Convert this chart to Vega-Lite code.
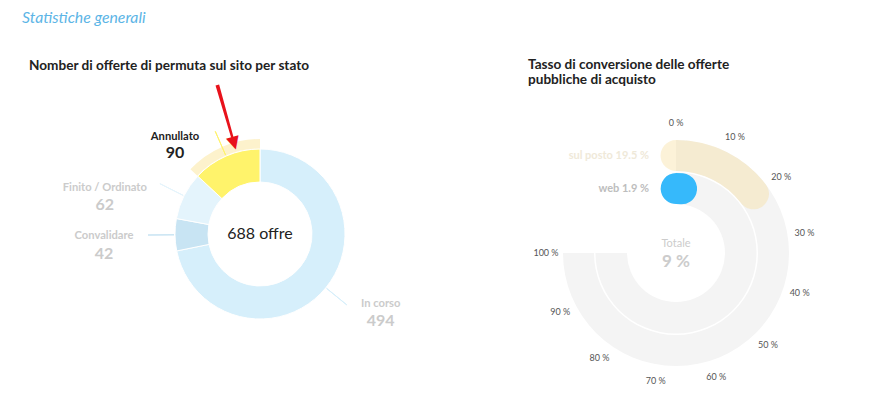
{
  "$schema": "https://vega.github.io/schema/vega-lite/v6.json",
  "background": "white",
  "padding": {"left": 22, "top": 10, "right": 0, "bottom": 0},
  "config": {"view": {"stroke": null}, "font": "Lato"},
  "title": {"text": "Statistiche generali", "anchor": "start", "font": "Lato", "fontSize": 15.8, "fontStyle": "italic", "fontWeight": "normal", "color": "#5cb5e6", "offset": 31},
  "spacing": 30,
  "hconcat": [
    {
      "width": 476,
      "height": 284,
      "title": {"text": "Nomber di offerte di permuta sul sito per stato", "anchor": "start", "dx": 7, "offset": 12, "font": "Lato", "fontSize": 13.6, "fontWeight": "bold", "color": "#222222"},
      "data": {"values": [
        {"stato": "In corso", "valore": 494, "ordine": 1},
        {"stato": "Convalidare", "valore": 42, "ordine": 2},
        {"stato": "Finito / Ordinato", "valore": 62, "ordine": 3},
        {"stato": "Annullato", "valore": 90, "ordine": 4}
      ]},
      "layer": [
        {
          "mark": {"type": "arc", "radius": 85, "radius2": 52, "stroke": "#ffffff", "strokeWidth": 1},
          "encoding": {
            "theta": {"field": "valore", "type": "quantitative", "stack": true, "scale": {"nice": false, "zero": true}},
            "order": {"field": "ordine", "type": "quantitative"},
            "color": {"field": "stato", "type": "nominal", "legend": null,
              "scale": {"domain": ["In corso", "Convalidare", "Finito / Ordinato", "Annullato"], "range": ["#d6effb", "#c8e4f3", "#e4f4fc", "#fff36b"]}}
          }
        },
        {
          "transform": [
            {"stack": "valore", "groupby": [], "sort": [{"field": "ordine", "order": "ascending"}], "as": ["inizio", "fine"]},
            {"filter": "datum.stato === 'Annullato'"}
          ],
          "mark": {"type": "arc", "radius": 95, "radius2": 85.5, "color": "#fdf2cc"},
          "encoding": {
            "theta": {"field": "inizio", "type": "quantitative"},
            "theta2": {"field": "fine"}
          }
        },
        {
          "transform": [
            {"stack": "valore", "groupby": [], "sort": [{"field": "ordine", "order": "ascending"}], "as": ["inizio", "fine"]},
            {"fold": ["inizio", "fine"], "as": ["estremo", "angolo"]},
            {"aggregate": [{"op": "mean", "field": "angolo", "as": "medio"}], "groupby": ["stato", "valore"]}
          ],
          "layer": [
            {
              "mark": {"type": "arc", "filled": false, "radius": 112, "radius2": 86, "strokeWidth": 1},
              "encoding": {
                "theta": {"field": "medio", "type": "quantitative"},
                "theta2": {"field": "medio"},
                "color": {"field": "stato", "type": "nominal", "legend": null}
              }
            },
            {
              "transform": [{"filter": "datum.stato === 'In corso'"}],
              "mark": {"type": "text", "radius": 130, "dx": 20, "dy": -12, "fontSize": 11.2, "fontWeight": "bold", "color": "#cbcbcb", "align": "center", "baseline": "middle"},
              "encoding": {"theta": {"field": "medio", "type": "quantitative"}, "text": {"field": "stato", "type": "nominal"}}
            },
            {
              "transform": [{"filter": "datum.stato === 'In corso'"}],
              "mark": {"type": "text", "radius": 130, "dx": 20, "dy": 5, "fontSize": 16, "fontWeight": "bold", "color": "#cbcbcb", "align": "center", "baseline": "middle"},
              "encoding": {"theta": {"field": "medio", "type": "quantitative"}, "text": {"field": "valore", "type": "nominal"}}
            },
            {
              "transform": [{"filter": "datum.stato === 'Convalidare'"}],
              "mark": {"type": "text", "radius": 130, "dx": -26, "dy": 1, "fontSize": 11.2, "fontWeight": "bold", "color": "#cbcbcb", "align": "center", "baseline": "middle"},
              "encoding": {"theta": {"field": "medio", "type": "quantitative"}, "text": {"field": "stato", "type": "nominal"}}
            },
            {
              "transform": [{"filter": "datum.stato === 'Convalidare'"}],
              "mark": {"type": "text", "radius": 130, "dx": -26, "dy": 19, "fontSize": 16, "fontWeight": "bold", "color": "#cbcbcb", "align": "center", "baseline": "middle"},
              "encoding": {"theta": {"field": "medio", "type": "quantitative"}, "text": {"field": "valore", "type": "nominal"}}
            },
            {
              "transform": [{"filter": "datum.stato === 'Finito / Ordinato'"}],
              "mark": {"type": "text", "radius": 130, "dx": -39, "dy": 12, "fontSize": 11.2, "fontWeight": "bold", "color": "#cbcbcb", "align": "center", "baseline": "middle"},
              "encoding": {"theta": {"field": "medio", "type": "quantitative"}, "text": {"field": "stato", "type": "nominal"}}
            },
            {
              "transform": [{"filter": "datum.stato === 'Finito / Ordinato'"}],
              "mark": {"type": "text", "radius": 130, "dx": -39, "dy": 29, "fontSize": 16, "fontWeight": "bold", "color": "#cbcbcb", "align": "center", "baseline": "middle"},
              "encoding": {"theta": {"field": "medio", "type": "quantitative"}, "text": {"field": "valore", "type": "nominal"}}
            },
            {
              "transform": [{"filter": "datum.stato === 'Annullato'"}],
              "mark": {"type": "text", "radius": 130, "dx": -33, "dy": 22, "fontSize": 11.2, "fontWeight": "bold", "color": "#222222", "align": "center", "baseline": "middle"},
              "encoding": {"theta": {"field": "medio", "type": "quantitative"}, "text": {"field": "stato", "type": "nominal"}}
            },
            {
              "transform": [{"filter": "datum.stato === 'Annullato'"}],
              "mark": {"type": "text", "radius": 130, "dx": -33, "dy": 38, "fontSize": 16, "fontWeight": "bold", "color": "#222222", "align": "center", "baseline": "middle"},
              "encoding": {"theta": {"field": "medio", "type": "quantitative"}, "text": {"field": "valore", "type": "nominal"}}
            },
            {
              "transform": [{"filter": "datum.stato === 'Annullato'"}],
              "mark": {"type": "arc", "color": "#e8121b", "radius": 155, "radius2": 100, "thetaOffset": 0.12, "theta2Offset": 0.144},
              "encoding": {"theta": {"field": "medio", "type": "quantitative"}, "theta2": {"field": "medio"}}
            },
            {
              "transform": [{"filter": "datum.stato === 'Annullato'"}],
              "mark": {"type": "text", "text": "▼", "font": "DejaVu Sans", "fontSize": 17, "radius": 95, "thetaOffset": 0.132, "angle": -16, "color": "#e8121b", "align": "center", "baseline": "middle"},
              "encoding": {"theta": {"field": "medio", "type": "quantitative"}}
            }
          ]
        },
        {
          "transform": [{"aggregate": [{"op": "sum", "field": "valore", "as": "totale"}]}],
          "mark": {"type": "text", "text": "688 offre", "fontSize": 16, "color": "#222222", "align": "center", "baseline": "middle"},
          "encoding": {}
        }
      ]
    },
    {
      "width": 296,
      "height": 322,
      "title": {"text": ["Tasso di conversione delle offerte", "pubbliche di acquisto"], "anchor": "start", "offset": 5, "lineHeight": 15.5, "font": "Lato", "fontSize": 13.6, "fontWeight": "bold", "color": "#222222"},
      "data": {"values": [
        {"canale": "sul posto", "valore": 19.5, "massimo": 100, "etichetta": "sul posto 19.5 %"},
        {"canale": "web", "valore": 1.9, "massimo": 100, "etichetta": "web 1.9 %"}
      ]},
      "transform": [
        {"stack": "valore", "groupby": ["canale"], "as": ["da", "a"]},
        {"stack": "massimo", "groupby": ["canale"], "as": ["traccia_da", "traccia_a"]}
      ],
      "layer": [
        {
          "transform": [{"filter": "datum.canale === 'sul posto'"}],
          "mark": {"type": "arc", "radius": 113, "radius2": 82, "color": "#f4f4f4"},
          "encoding": {
            "theta": {"field": "traccia_da", "type": "quantitative", "scale": {"domain": [0, 100], "range": [0, 4.71238898]}},
            "theta2": {"field": "traccia_a"}
          }
        },
        {
          "transform": [{"filter": "datum.canale === 'web'"}],
          "mark": {"type": "arc", "radius": 80.5, "radius2": 49, "color": "#f4f4f4"},
          "encoding": {"theta": {"field": "traccia_da", "type": "quantitative"}, "theta2": {"field": "traccia_a"}}
        },
        {
          "transform": [{"filter": "datum.canale === 'sul posto'"}],
          "mark": {"type": "arc", "radius": 113, "radius2": 82, "cornerRadius": 15.5, "thetaOffset": -0.159, "theta2Offset": 0.159, "color": "#f5db8f", "opacity": 0.35},
          "encoding": {"theta": {"field": "da", "type": "quantitative"}, "theta2": {"field": "a"}}
        },
        {
          "transform": [{"filter": "datum.canale === 'web'"}],
          "mark": {"type": "arc", "radius": 80, "radius2": 49, "cornerRadius": 15.5, "thetaOffset": -0.24, "theta2Offset": 0.24, "color": "#36b9fb"},
          "encoding": {"theta": {"field": "da", "type": "quantitative"}, "theta2": {"field": "a"}}
        },
        {
          "data": {"values": [
            {"tacca": 0, "testo": "0 %"}, {"tacca": 10, "testo": "10 %"}, {"tacca": 20, "testo": "20 %"},
            {"tacca": 30, "testo": "30 %"}, {"tacca": 40, "testo": "40 %"}, {"tacca": 50, "testo": "50 %"},
            {"tacca": 60, "testo": "60 %"}, {"tacca": 70, "testo": "70 %"}, {"tacca": 80, "testo": "80 %"},
            {"tacca": 90, "testo": "90 %"}, {"tacca": 100, "testo": "100 %"}
          ]},
          "mark": {"type": "text", "radius": 130, "fontSize": 9, "color": "#555555", "align": "center", "baseline": "middle"},
          "encoding": {"theta": {"field": "tacca", "type": "quantitative"}, "text": {"field": "testo", "type": "nominal"}}
        },
        {
          "transform": [{"filter": "datum.canale === 'sul posto'"}],
          "mark": {"type": "text", "radius": 97.5, "dx": -27, "fontSize": 11, "fontWeight": "bold", "color": "#efe9d9", "align": "right", "baseline": "middle"},
          "encoding": {"text": {"field": "etichetta", "type": "nominal"}}
        },
        {
          "transform": [{"filter": "datum.canale === 'web'"}],
          "mark": {"type": "text", "radius": 64.5, "dx": -27, "fontSize": 11, "fontWeight": "bold", "color": "#bdbdbd", "align": "right", "baseline": "middle"},
          "encoding": {"text": {"field": "etichetta", "type": "nominal"}}
        },
        {
          "transform": [{"filter": "datum.canale === 'web'"}],
          "mark": {"type": "text", "text": "Totale", "dy": -9, "fontSize": 11, "color": "#cccccc", "align": "center", "baseline": "middle"},
          "encoding": {}
        },
        {
          "transform": [{"filter": "datum.canale === 'web'"}],
          "mark": {"type": "text", "text": "9 %", "dy": 9, "fontSize": 17, "fontWeight": "bold", "color": "#cccccc", "align": "center", "baseline": "middle"},
          "encoding": {}
        }
      ]
    }
  ]
}
